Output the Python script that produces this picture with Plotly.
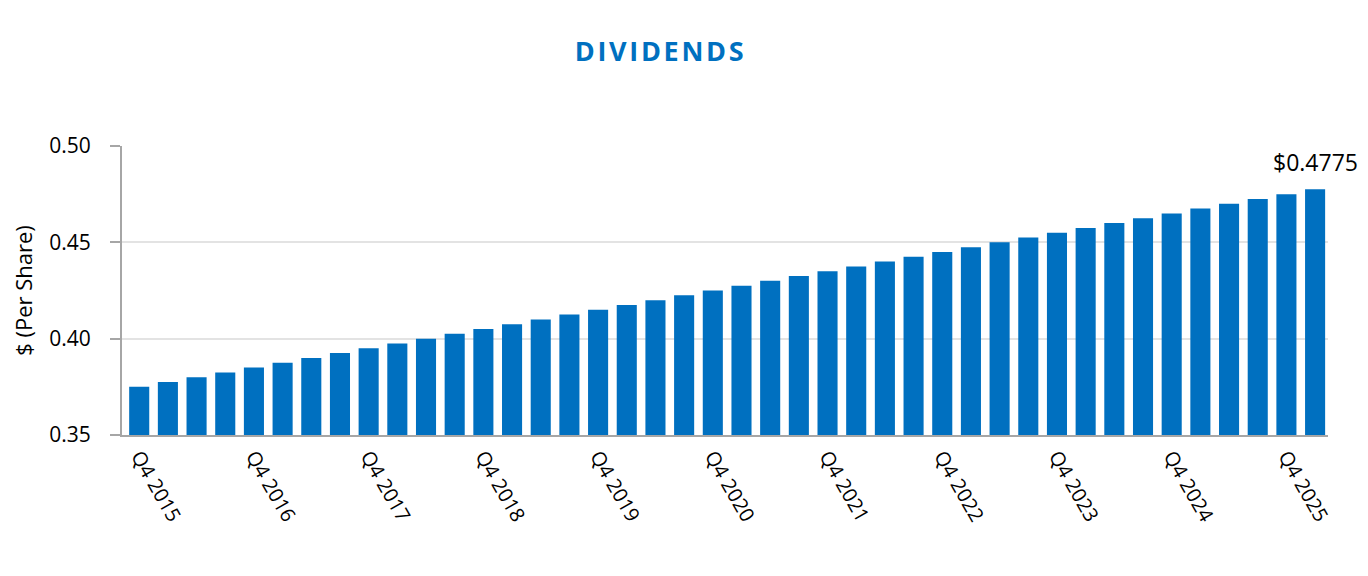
import plotly.graph_objects as go

quarters = [
    "Q4 2015", "Q1 2016", "Q2 2016", "Q3 2016", "Q4 2016", "Q1 2017", "Q2 2017", "Q3 2017",
    "Q4 2017", "Q1 2018", "Q2 2018", "Q3 2018", "Q4 2018", "Q1 2019", "Q2 2019", "Q3 2019",
    "Q4 2019", "Q1 2020", "Q2 2020", "Q3 2020", "Q4 2020", "Q1 2021", "Q2 2021", "Q3 2021",
    "Q4 2021", "Q1 2022", "Q2 2022", "Q3 2022", "Q4 2022", "Q1 2023", "Q2 2023", "Q3 2023",
    "Q4 2023", "Q1 2024", "Q2 2024", "Q3 2024", "Q4 2024", "Q1 2025", "Q2 2025", "Q3 2025",
    "Q4 2025", "Q1 2026",
]
dividends = [
    0.3750, 0.3775, 0.3800, 0.3825, 0.3850, 0.3875, 0.3900, 0.3925,
    0.3950, 0.3975, 0.4000, 0.4025, 0.4050, 0.4075, 0.4100, 0.4125,
    0.4150, 0.4175, 0.4200, 0.4225, 0.4250, 0.4275, 0.4300, 0.4325,
    0.4350, 0.4375, 0.4400, 0.4425, 0.4450, 0.4475, 0.4500, 0.4525,
    0.4550, 0.4575, 0.4600, 0.4625, 0.4650, 0.4675, 0.4700, 0.4725,
    0.4750, 0.4775,
]
tick_labels = ["Q4 2015", "Q4 2016", "Q4 2017", "Q4 2018", "Q4 2019", "Q4 2020",
               "Q4 2021", "Q4 2022", "Q4 2023", "Q4 2024", "Q4 2025"]
y_ticks = [0.35, 0.40, 0.45, 0.50]
last_label = "$0.4775"
title_text = "DIVIDENDS"

BLUE = "#0070C0"
FONT = "Open Sans"

fig = go.Figure(go.Bar(x=quarters, y=dividends, marker_color=BLUE, marker_line_width=0))

fig.add_annotation(x=quarters[-1], y=dividends[-1], text=last_label, showarrow=False,
                   yshift=27, font=dict(family=FONT, size=23, color="#000000"))

spaced_title = "\u200a".join(title_text)

fig.update_layout(
    width=1368, height=576,
    margin=dict(l=114, r=48, t=138, b=149),
    paper_bgcolor="white", plot_bgcolor="white",
    bargap=0.3,
    showlegend=False,
    title=dict(text="<b>" + spaced_title + "</b>", x=0.476, xanchor="center",
               y=0.924, yanchor="middle",
               font=dict(family=FONT, size=27, color=BLUE)),
    font=dict(family=FONT, color="#000000"),
)

fig.update_xaxes(
    type="category", tickmode="array", tickvals=tick_labels, ticktext=tick_labels,
    range=[-0.6, 41.45],
    tickangle=60, tickfont=dict(family=FONT, size=20, color="#000000"),
    showline=True, linecolor="#A6A6A6", linewidth=2, ticks="", showgrid=False,
)
fig.update_yaxes(
    range=[0.35, 0.50], tickvals=y_ticks, tickformat=".2f",
    tickfont=dict(family=FONT, size=21, color="#000000"),
    ticklabelstandoff=15,
    showline=True, linecolor="#A6A6A6", linewidth=2,
    ticks="outside", ticklen=10, tickcolor="#A6A6A6", tickwidth=2,
    showgrid=True, gridcolor="#E3E3E3", gridwidth=2, zeroline=False,
    title=dict(text="$ (Per Share)", font=dict(family=FONT, size=22, color="#000000"), standoff=12),
)

fig.write_html("out.html")
